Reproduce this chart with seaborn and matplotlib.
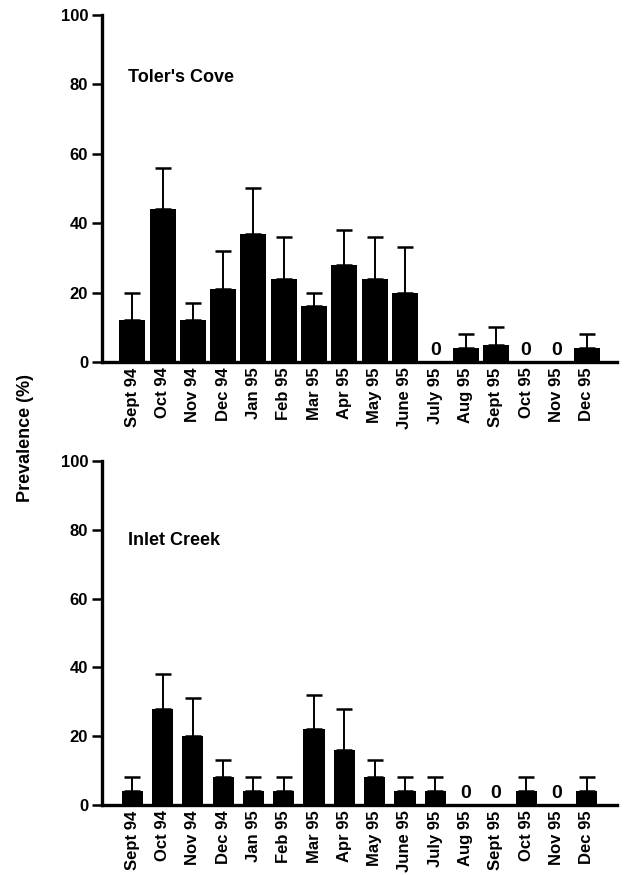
import matplotlib
matplotlib.use("Agg")
import matplotlib.pyplot as plt
from matplotlib import font_manager
import seaborn as sns
import pandas as pd
import numpy as np

months = ["Sept 94", "Oct 94", "Nov 94", "Dec 94", "Jan 95", "Feb 95", "Mar 95",
          "Apr 95", "May 95", "June 95", "July 95", "Aug 95", "Sept 95", "Oct 95",
          "Nov 95", "Dec 95"]

toler_prev = [12, 44, 12, 21, 37, 24, 16, 28, 24, 20, 0, 4, 5, 0, 0, 4]
toler_err = [8, 12, 5, 11, 13, 12, 4, 10, 12, 13, 0, 4, 5, 0, 0, 4]

inlet_prev = [4, 28, 20, 8, 4, 4, 22, 16, 8, 4, 4, 0, 0, 4, 0, 4]
inlet_err = [4, 10, 11, 5, 4, 4, 10, 12, 5, 4, 4, 0, 0, 4, 0, 4]

y_ticks = [0, 20, 40, 60, 80, 100]

sns.set_theme(style="white")
available = {f.name for f in font_manager.fontManager.ttflist}
narrow = "Liberation Sans Narrow" if "Liberation Sans Narrow" in available else "Liberation Sans"
plt.rcParams["font.family"] = ["Liberation Sans", "DejaVu Sans"]
plt.rcParams["text.color"] = "black"
plt.rcParams["axes.labelcolor"] = "black"
plt.rcParams["xtick.color"] = "black"
plt.rcParams["ytick.color"] = "black"

fig = plt.figure(figsize=(6.25, 8.75), dpi=100)
ax_top = fig.add_axes([0.1632, 0.5863, 0.824, 0.3966])
ax_bot = fig.add_axes([0.1632, 0.0800, 0.824, 0.3931])


def draw_panel(ax, values, errors, title, width, title_y):
    df = pd.DataFrame({"month": months, "prev": values})
    sns.barplot(data=df, x="month", y="prev", color="black", width=width,
                saturation=1, ax=ax, edgecolor="black", linewidth=0)
    pos = np.arange(len(months))
    vals = np.array(values, dtype=float)
    errs = np.array(errors, dtype=float)
    has = vals > 0
    ax.errorbar(pos[has], vals[has], yerr=[np.zeros(has.sum()), errs[has]],
                fmt="none", ecolor="black", elinewidth=1.4, capsize=5.5,
                capthick=1.8)
    for i in pos[~has]:
        ax.text(i, 1.0, "0", ha="center", va="bottom", fontsize=14,
                fontweight="bold", family=narrow, color="black")
    ax.set_xlim(-1, 16)
    ax.set_ylim(0, 100)
    ax.set_yticks(y_ticks)
    ax.set_yticklabels([str(t) for t in y_ticks], fontsize=12,
                       fontweight="bold", family=narrow, color="black")
    ax.set_xticks(pos)
    ax.set_xticklabels(months, rotation=90, fontsize=12, fontweight="bold",
                       family=narrow, color="black")
    ax.tick_params(axis="y", direction="out", length=7, width=1.8, pad=3,
                   left=True, colors="black")
    ax.tick_params(axis="x", length=0, pad=4, colors="black")
    ax.set_xlabel("")
    ax.set_ylabel("")
    for side in ("top", "right"):
        ax.spines[side].set_visible(False)
    for side in ("left", "bottom"):
        ax.spines[side].set_linewidth(2.4)
        ax.spines[side].set_color("black")
    ax.text(0.05, title_y, title, transform=ax.transAxes, fontsize=13,
            fontweight="bold", ha="left", va="center", color="black")


draw_panel(ax_top, toler_prev, toler_err, "Toler's Cove", 0.86, 0.82)
draw_panel(ax_bot, inlet_prev, inlet_err, "Inlet Creek", 0.70, 0.77)

fig.text(0.04, 0.5, "Prevalence (%)", rotation=90, ha="center", va="center",
         fontsize=13, fontweight="bold", color="black")

fig.savefig("out.png", dpi=100, facecolor="white")
